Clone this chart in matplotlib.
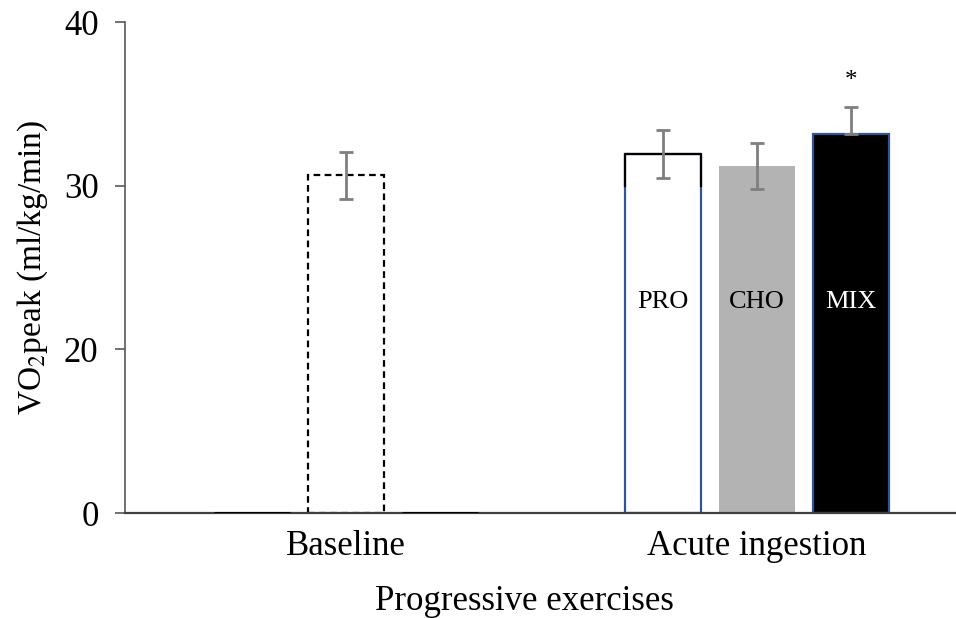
import matplotlib
matplotlib.use("Agg")
import matplotlib.pyplot as plt
import numpy as np

# data
categorias = ["Baseline", "Acute ingestion"]
etiquetas = ["PRO", "CHO", "MIX"]
valores_base = [0.0, 30.65, 0.0]
err_base = [0.0, 1.45, 0.0]
valores_aguda = [31.95, 31.2, 33.15]
err_aguda_abajo = [1.47, 1.37, 0.0]
err_aguda_arriba = [1.47, 1.40, 1.70]
piso = 10          # the axis is cut: the "0" label sits at 10
corte_pro = 30     # level where the PRO outline changes colour
yticks = [10, 20, 30, 40]
ytick_labels = ["0", "20", "30", "40"]
estrella_y = 36.4
texto_y = 22.9

plt.rcParams["font.family"] = ["Liberation Serif", "DejaVu Serif"]
plt.rcParams["mathtext.fontset"] = "stix"

fig = plt.figure(figsize=(9.56, 6.18), dpi=100)
ax = fig.add_axes([125 / 956, 105 / 618, 1 - 125 / 956, (513 - 22.4) / 618])

x = np.arange(len(categorias))
ancho = 0.185
paso = 0.228
desp = np.array([-1, 0, 1]) * paso

# Baseline group
xb = x[0] + desp
hb = np.maximum(valores_base, piso) - piso
for i in range(3):
    if i == 1:
        ax.bar(xb[i], hb[i], ancho, bottom=piso, color="white",
               edgecolor="black", linewidth=1.6, linestyle=(0, (3, 2)), zorder=2)
    else:
        ax.bar(xb[i], hb[i], ancho, bottom=piso, color="black",
               edgecolor="black", linewidth=2.2, zorder=3)
ax.errorbar(xb[1], valores_base[1], yerr=err_base[1], fmt="none",
            ecolor="#7f7f7f", elinewidth=2, capsize=5, capthick=2, zorder=3)

# Acute ingestion group
xa = x[1] + desp
ha = np.array(valores_aguda) - piso
ax.bar(xa[0], ha[0], ancho, bottom=piso, color="white", edgecolor="#2F5597",
       linewidth=1.6, zorder=2)
x0, x1 = xa[0] - ancho / 2, xa[0] + ancho / 2
ax.plot([x0, x0, x1, x1], [corte_pro, valores_aguda[0], valores_aguda[0], corte_pro],
        color="black", linewidth=1.6, zorder=2.5)
ax.bar(xa[1], ha[1], ancho, bottom=piso, color="#B3B3B3", edgecolor="none", zorder=2)
ax.bar(xa[2], ha[2], ancho, bottom=piso, color="black", edgecolor="#2F5597",
       linewidth=1.6, zorder=2)
ax.errorbar(xa, valores_aguda, yerr=[err_aguda_abajo, err_aguda_arriba], fmt="none",
            ecolor="#7f7f7f", elinewidth=2, capsize=5, capthick=2, zorder=3)

colores_texto = ["black", "black", "white"]
for xi, txt, c in zip(xa, etiquetas, colores_texto):
    ax.text(xi, texto_y, txt, ha="center", va="center", fontsize=19, color=c, zorder=4)
ax.text(xa[2], estrella_y, "*", ha="center", va="center", fontsize=18)

ax.set_ylim(piso, 40)
ax.set_xlim(x[0] - 0.538, x[0] + 1.484)
ax.set_yticks(yticks)
ax.set_yticklabels(ytick_labels)
ax.set_xticks(x)
ax.set_xticklabels(categorias)
ax.tick_params(axis="x", length=0, pad=12, labelsize=25)
ax.tick_params(axis="y", length=7, width=1.2, color="#595959", pad=12, labelsize=25)
ax.spines["top"].set_visible(False)
ax.spines["right"].set_visible(False)
ax.spines["left"].set_color("#595959")
ax.spines["left"].set_linewidth(1.2)
ax.spines["bottom"].set_color("#404040")
ax.spines["bottom"].set_linewidth(1.6)
ax.set_ylabel("VO$_2$peak (ml/kg/min)", fontsize=24, labelpad=10)

fig.text(524 / 956, 1 - 601 / 618, "Progressive exercises", ha="center", va="center",
         fontsize=25)

fig.savefig("out.png", dpi=100)
